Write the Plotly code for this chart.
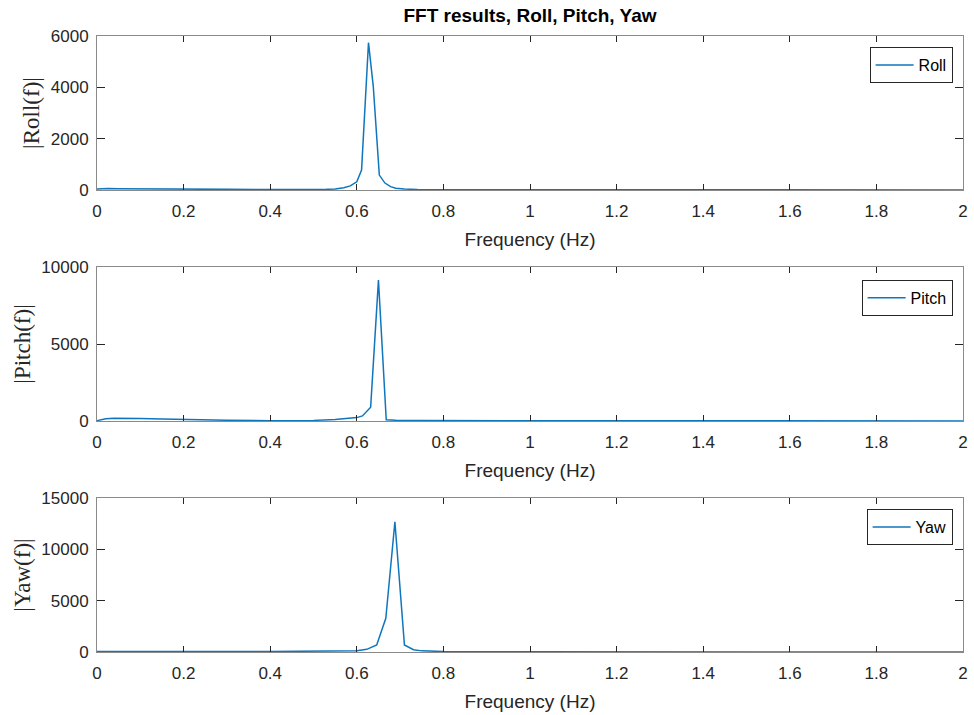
import plotly.graph_objects as go
from plotly.subplots import make_subplots

# ---- data ----
roll_freq = [0, 0.013, 0.025, 0.05, 0.1, 0.2, 0.3, 0.4, 0.45, 0.5, 0.53, 0.55, 0.57, 0.585,
             0.6, 0.611, 0.627, 0.638, 0.652, 0.665, 0.678, 0.69, 0.71, 0.74, 0.8, 1.0, 1.5, 2.0]
roll_mag = [40, 60, 55, 45, 35, 30, 25, 20, 15, 15, 25, 40, 90, 160,
            320, 780, 5740, 4050, 580, 270, 130, 70, 35, 20, 12, 8, 5, 4]

pitch_freq = [0, 0.02, 0.04, 0.06, 0.1, 0.15, 0.2, 0.3, 0.4, 0.45, 0.5, 0.55, 0.58, 0.6,
              0.613, 0.632, 0.650, 0.668, 0.69, 0.75, 1.0, 1.5, 2.0]
pitch_mag = [20, 150, 180, 190, 170, 130, 90, 50, 20, 15, 40, 90, 150, 220,
             330, 900, 9150, 80, 50, 30, 15, 8, 5]

yaw_freq = [0, 0.05, 0.2, 0.4, 0.5, 0.55, 0.58, 0.6, 0.623, 0.646, 0.667, 0.688, 0.710,
            0.731, 0.75, 0.8, 1.0, 1.5, 2.0]
yaw_mag = [60, 70, 50, 40, 50, 70, 100, 130, 260, 680, 3280, 12690, 680,
           220, 110, 50, 20, 10, 5]

x_ticks = [0, 0.2, 0.4, 0.6, 0.8, 1.0, 1.2, 1.4, 1.6, 1.8, 2.0]
x_tick_labels = ["0", "0.2", "0.4", "0.6", "0.8", "1", "1.2", "1.4", "1.6", "1.8", "2"]
roll_yticks = [0, 2000, 4000, 6000]
pitch_yticks = [0, 5000, 10000]
yaw_yticks = [0, 5000, 10000, 15000]

series = [
    ("Roll", roll_freq, roll_mag, roll_yticks, "|Roll(f)|", "legend"),
    ("Pitch", pitch_freq, pitch_mag, pitch_yticks, "|Pitch(f)|", "legend2"),
    ("Yaw", yaw_freq, yaw_mag, yaw_yticks, "|Yaw(f)|", "legend3"),
]

AXCOL = "#8a8a8a"
TICKCOL = "#262626"
TXT = "#262626"
FONT = "Liberation Sans, Arial, sans-serif"

fig = make_subplots(rows=3, cols=1, vertical_spacing=0.125)

for i, (name, f, m, yt, ytitle, leg) in enumerate(series, start=1):
    fig.add_trace(go.Scatter(x=f, y=m, mode="lines", name=name,
                             line=dict(color="#0f76bd", width=1.5), legend=leg),
                  row=i, col=1)
    fig.update_xaxes(range=[0, 2], tickvals=x_ticks, ticktext=x_tick_labels,
                     ticks="inside", ticklen=6, tickcolor=TICKCOL, mirror="ticks",
                     showline=True, linecolor=AXCOL, linewidth=1, showgrid=False,
                     zeroline=False, ticklabelstandoff=6, automargin=False,
                     tickfont=dict(size=17, color=TXT, family=FONT),
                     title=dict(text="Frequency (Hz)", standoff=12,
                                font=dict(size=19, color=TXT, family=FONT)),
                     row=i, col=1)
    fig.update_yaxes(range=[0, yt[-1]], tickvals=yt, ticktext=[str(v) for v in yt],
                     ticks="inside", ticklen=8, tickcolor=TICKCOL, mirror="ticks",
                     showline=True, linecolor=AXCOL, linewidth=1, showgrid=False,
                     zeroline=False, ticklabelstandoff=4, automargin=False,
                     tickfont=dict(size=17, color=TXT, family=FONT),
                     title=dict(text=ytitle, standoff=4,
                                font=dict(size=23, color=TXT,
                                          family="Liberation Serif, DejaVu Serif, serif")),
                     row=i, col=1)

fig.update_layout(yaxis=dict(domain=[0.75, 1.0]),
                  yaxis2=dict(domain=[0.375, 0.625]),
                  yaxis3=dict(domain=[0.0, 0.25]))

legend_style = dict(xref="paper", yref="paper", xanchor="right", yanchor="top",
                    bgcolor="white", bordercolor="#262626", borderwidth=1,
                    font=dict(size=16, color="#000000", family=FONT),
                    itemwidth=38, tracegroupgap=0)
fig.update_layout(
    legend=dict(x=0.988, y=0.982, **legend_style),
    legend2=dict(x=0.988, y=0.604, **legend_style),
    legend3=dict(x=0.988, y=0.232, **legend_style),
)

fig.update_layout(
    width=974, height=715,
    margin=dict(l=97, r=11, t=36, b=63, autoexpand=False),
    paper_bgcolor="white", plot_bgcolor="white",
    showlegend=True,
    title=dict(text="<b>FFT results, Roll, Pitch, Yaw</b>", xref="paper", x=0.5,
               xanchor="center", yref="container", y=1 - 15 / 715, yanchor="middle",
               font=dict(size=19, color="#000000", family=FONT)),
)

fig.write_html("out.html")
